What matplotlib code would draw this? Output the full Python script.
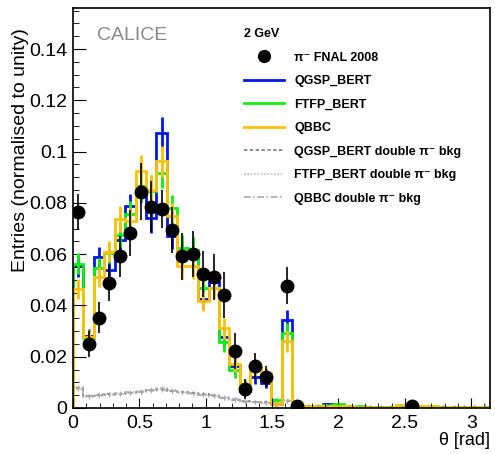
import numpy as np
import matplotlib
matplotlib.use("Agg")
import matplotlib.pyplot as plt
from matplotlib.lines import Line2D
from matplotlib.ticker import MultipleLocator, FormatStrFormatter

plt.rcParams['font.family'] = ['Liberation Sans', 'DejaVu Sans']

# 40 bins between 0 and pi
N_BINS = 40
edges = np.linspace(0, np.pi, N_BINS + 1)
centers = 0.5 * (edges[:-1] + edges[1:])

nan = np.nan
# pi- FNAL 2008 data (nan = empty bin)
data = [0.0763, 0.0250, 0.0352, 0.0489, 0.0591, 0.0682, 0.0844, 0.0785, 0.0776, 0.0693,
        0.0591, 0.0602, 0.0522, 0.0511, 0.0441, 0.0224, 0.0074, 0.0165, 0.0122, nan,
        0.0477, 0.0009, nan, nan, nan, nan, nan, nan, nan, nan,
        nan, nan, 0.0008, nan, nan, nan, nan, nan, nan, nan]
data_err = [0.0070, 0.0050, 0.0060, 0.0070, 0.0080, 0.0090, 0.0110, 0.0100, 0.0075, 0.0090,
            0.0090, 0.0090, 0.0090, 0.0090, 0.0090, 0.0070, 0.0040, 0.0050, 0.0040, 0.0,
            0.0073, 0.0005, 0.0, 0.0, 0.0, 0.0, 0.0, 0.0, 0.0, 0.0,
            0.0, 0.0, 0.0010, 0.0, 0.0, 0.0, 0.0, 0.0, 0.0, 0.0]

qgsp_bert = [0.0552, 0.0279, 0.0589, 0.0539, 0.0656, 0.0786, 0.0865, 0.0742, 0.1073, 0.0672,
             0.0600, 0.0604, 0.0425, 0.0490, 0.0275, 0.0165, 0.0065, 0.0122, 0.0099, 0.0016,
             0.0344, 0.0008, 0.0005, 0.0006, 0.0016, 0.0008, 0.0006, 0.0005, 0.0004, 0.0005,
             0.0004, 0.0006, 0.0008, 0.0005, 0.0004, 0.0004, 0.0003, 0.0004, 0.0003, 0.0003]
ftfp_bert = [0.0563, 0.0272, 0.0546, 0.0604, 0.0676, 0.0756, 0.0867, 0.0848, 0.0917, 0.0780,
             0.0624, 0.0617, 0.0468, 0.0468, 0.0259, 0.0148, 0.0090, 0.0155, 0.0117, 0.0030,
             0.0292, 0.0010, 0.0006, 0.0007, 0.0010, 0.0014, 0.0008, 0.0006, 0.0005, 0.0004,
             0.0005, 0.0007, 0.0010, 0.0009, 0.0006, 0.0005, 0.0004, 0.0004, 0.0003, 0.0003]
qbbc = [0.0464, 0.0276, 0.0510, 0.0610, 0.0736, 0.0730, 0.0925, 0.0849, 0.0962, 0.0750,
        0.0552, 0.0552, 0.0418, 0.0468, 0.0311, 0.0172, 0.0078, 0.0160, 0.0136, 0.0017,
        0.0260, 0.0012, 0.0007, 0.0006, 0.0008, 0.0007, 0.0006, 0.0005, 0.0005, 0.0004,
        0.0005, 0.0012, 0.0010, 0.0007, 0.0006, 0.0005, 0.0004, 0.0004, 0.0003, 0.0003]
mc_err = [0.0040, 0.0030, 0.0040, 0.0040, 0.0050, 0.0050, 0.0060, 0.0060, 0.0060, 0.0050,
          0.0050, 0.0050, 0.0040, 0.0040, 0.0040, 0.0030, 0.0020, 0.0030, 0.0020, 0.0010,
          0.0040, 0.0005, 0.0004, 0.0004, 0.0005, 0.0005, 0.0004, 0.0004, 0.0004, 0.0004,
          0.0004, 0.0005, 0.0005, 0.0004, 0.0004, 0.0004, 0.0003, 0.0003, 0.0003, 0.0003]

# double pi- background
bkg_qgsp = [0.0078, 0.0046, 0.0050, 0.0053, 0.0056, 0.0058, 0.0064, 0.0070, 0.0075, 0.0068,
            0.0062, 0.0058, 0.0054, 0.0048, 0.0040, 0.0032, 0.0026, 0.0024, 0.0022, 0.0022,
            0.0026, 0.0012, 0.0008, 0.0006, 0.0006, 0.0005, 0.0005, 0.0005, 0.0004, 0.0004,
            0.0004, 0.0004, 0.0004, 0.0003, 0.0003, 0.0003, 0.0003, 0.0003, 0.0003, 0.0003]
bkg_ftfp = [0.0082, 0.0044, 0.0048, 0.0055, 0.0054, 0.0060, 0.0066, 0.0068, 0.0078, 0.0070,
            0.0060, 0.0056, 0.0052, 0.0046, 0.0042, 0.0030, 0.0028, 0.0022, 0.0020, 0.0024,
            0.0028, 0.0010, 0.0007, 0.0006, 0.0005, 0.0005, 0.0005, 0.0004, 0.0004, 0.0004,
            0.0004, 0.0004, 0.0003, 0.0003, 0.0003, 0.0003, 0.0003, 0.0003, 0.0003, 0.0003]
bkg_qbbc = [0.0074, 0.0048, 0.0052, 0.0051, 0.0058, 0.0062, 0.0062, 0.0072, 0.0072, 0.0066,
            0.0064, 0.0060, 0.0050, 0.0050, 0.0038, 0.0034, 0.0024, 0.0025, 0.0021, 0.0020,
            0.0030, 0.0011, 0.0008, 0.0007, 0.0006, 0.0006, 0.0005, 0.0005, 0.0004, 0.0004,
            0.0004, 0.0004, 0.0004, 0.0004, 0.0003, 0.0003, 0.0003, 0.0003, 0.0003, 0.0003]
bkg_err = 0.0008

BLUE = '#0018e6'
GREEN = '#10ee10'
YELLOW = '#ffc107'

fig = plt.figure(figsize=(4.95, 4.54), dpi=100)
ax = fig.add_axes([73 / 495, 1 - 408 / 454, (490 - 73) / 495, (408 - 8) / 454])

# backgrounds
for vals, col, ls in [(bkg_qgsp, '#777777', (0, (2, 1.5))),
                      (bkg_ftfp, '#bbbbbb', (0, (1, 1))),
                      (bkg_qbbc, '#aaaaaa', (0, (4, 1.5, 1, 1.5)))]:
    ax.stairs(vals, edges, color=col, lw=1.2, ls=ls)
    ax.errorbar(centers, vals, yerr=bkg_err, fmt='none', ecolor=col, elinewidth=0.8)

# MC models
for vals, col in [(qgsp_bert, BLUE), (ftfp_bert, GREEN), (qbbc, YELLOW)]:
    ax.stairs(vals, edges, color=col, lw=2)
    ax.errorbar(centers, vals, yerr=mc_err, fmt='none', ecolor=col, elinewidth=2)

# data
ax.errorbar(centers, data, yerr=data_err, fmt='o', color='black', ms=9,
            elinewidth=1.2, capsize=0, zorder=10)

ax.set_xlim(0, np.pi)
ax.set_ylim(0, 0.156)
ax.xaxis.set_major_locator(MultipleLocator(0.5))
ax.xaxis.set_minor_locator(MultipleLocator(0.1))
ax.yaxis.set_major_locator(MultipleLocator(0.02))
ax.yaxis.set_minor_locator(MultipleLocator(0.005))
ax.xaxis.set_major_formatter(FormatStrFormatter('%g'))
ax.yaxis.set_major_formatter(FormatStrFormatter('%g'))
ax.tick_params(axis='both', which='both', direction='in', labelsize=14)
ax.tick_params(axis='x', which='major', length=7, pad=5)
ax.tick_params(axis='x', which='minor', length=3.5)
ax.tick_params(axis='y', which='major', length=9, pad=4)
ax.tick_params(axis='y', which='minor', length=4.5)
for s in ax.spines.values():
    s.set_linewidth(1.2)

ax.set_ylabel('Entries (normalised to unity)', fontsize=14, y=0.95,
              horizontalalignment='right', labelpad=0)
ax.set_xlabel('θ [rad]', fontsize=13, loc='right', labelpad=0)

fig.text(97 / 495, 1 - 36 / 454, 'CALICE', fontsize=14, color='#888888', va='center')

handles = [
    Line2D([], [], ls='none', marker='o', color='black', ms=8.5),
    Line2D([], [], color=BLUE, lw=2),
    Line2D([], [], color=GREEN, lw=2),
    Line2D([], [], color=YELLOW, lw=2),
    Line2D([], [], color='#777777', lw=1.2, ls=(0, (2, 1.5))),
    Line2D([], [], color='#bbbbbb', lw=1.2, ls=(0, (1, 1))),
    Line2D([], [], color='#aaaaaa', lw=1.2, ls=(0, (4, 1.5, 1, 1.5))),
]
labels = ['π⁻ FNAL 2008', 'QGSP_BERT', 'FTFP_BERT', 'QBBC',
          'QGSP_BERT double π⁻ bkg', 'FTFP_BERT double π⁻ bkg', 'QBBC double π⁻ bkg']
leg = fig.legend(handles, labels, loc='upper left', bbox_to_anchor=(238 / 495, 1 - 22 / 454),
                 frameon=False, title='2 GeV', alignment='left',
                 prop={'size': 9, 'weight': 'bold'}, title_fontproperties={'size': 9, 'weight': 'bold'},
                 handlelength=3.2, handletextpad=0.8, labelspacing=0.92, borderpad=0)

fig.savefig('out.png', dpi=100)
